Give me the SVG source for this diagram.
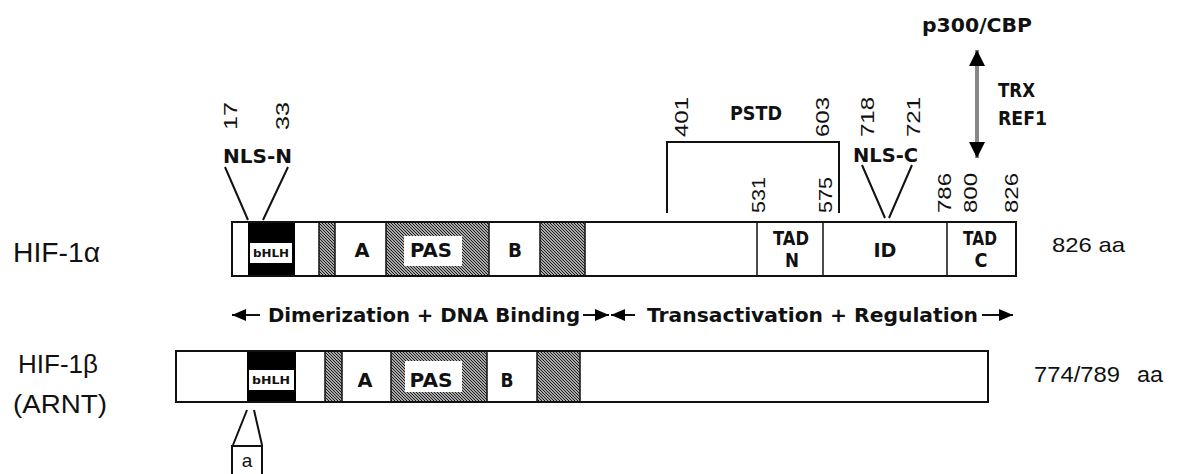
<svg xmlns="http://www.w3.org/2000/svg" width="1179" height="474" viewBox="0 0 1179 474">
<defs>
<pattern id="hatch" width="3" height="3" patternUnits="userSpaceOnUse">
<rect width="3" height="3" fill="#e8e8e8"/>
<path d="M-1,-1 L4,4 M-1,2 L1,4 M2,-1 L4,1" stroke="#111" stroke-width="1.1"/>
</pattern>
<marker id="ah" viewBox="0 0 14 12" refX="14" refY="6" markerWidth="14" markerHeight="12" markerUnits="userSpaceOnUse" orient="auto-start-reverse">
<path d="M0,0 L14,6 L0,12 Z" fill="#000"/>
</marker>
<marker id="ah2" viewBox="0 0 16 16" refX="16" refY="8" markerWidth="16" markerHeight="16" markerUnits="userSpaceOnUse" orient="auto-start-reverse">
<path d="M0,0 L16,8 L0,16 Z" fill="#000"/>
</marker>
</defs>
<style>
.lbl{font-family:"Liberation Sans",Arial,sans-serif;fill:#111}
.num{font-family:"Liberation Sans",Arial,sans-serif;font-size:18px;fill:#111;text-anchor:middle}
.bd{font-family:"DejaVu Sans","Liberation Sans",sans-serif;font-weight:bold;font-size:20px;fill:#111}
.mid{text-anchor:middle}
.bar{fill:#fff;stroke:#111;stroke-width:2}
.seg{stroke:#111;stroke-width:1.5}
.ln{stroke:#111;stroke-width:2;fill:none}
.tiny{font-family:"DejaVu Sans","Liberation Sans",sans-serif;font-weight:bold;font-size:10px;fill:#111;text-anchor:middle}
</style>
<rect width="1179" height="474" fill="#fff"/>

<g id="hif1a">
<text class="lbl" x="13" y="262" font-size="27" textLength="87" lengthAdjust="spacingAndGlyphs">HIF-1α</text>
<rect class="bar" x="232" y="222" width="784" height="54"/>
<rect x="248" y="222" width="47" height="54" fill="#000"/>
<rect x="250" y="243" width="42" height="20" fill="#fff"/>
<text class="tiny" x="271" y="257" textLength="36" lengthAdjust="spacingAndGlyphs">bHLH</text>
<rect class="seg" x="319" y="222" width="16" height="54" fill="url(#hatch)"/>
<rect class="seg" x="386" y="222" width="103" height="54" fill="url(#hatch)"/>
<rect x="404" y="236" width="58" height="30" fill="#fff"/>
<rect class="seg" x="540" y="222" width="45" height="54" fill="url(#hatch)"/>
<line class="seg" x1="757" y1="222" x2="757" y2="276"/>
<line class="seg" x1="823" y1="222" x2="823" y2="276"/>
<line class="seg" x1="947" y1="222" x2="947" y2="276"/>
<rect x="232" y="222" width="784" height="54" fill="none" stroke="#111" stroke-width="2"/>
<text class="bd mid" x="362" y="257" textLength="15" lengthAdjust="spacingAndGlyphs">A</text>
<text class="bd mid" x="431" y="257" textLength="42" lengthAdjust="spacingAndGlyphs">PAS</text>
<text class="bd mid" x="515" y="257" textLength="14" lengthAdjust="spacingAndGlyphs">B</text>
<text class="bd mid" x="791" y="245" font-size="15" textLength="36" lengthAdjust="spacingAndGlyphs">TAD</text>
<text class="bd mid" x="792" y="267" font-size="15" textLength="14" lengthAdjust="spacingAndGlyphs">N</text>
<text class="bd mid" x="885" y="257" font-size="19" textLength="23" lengthAdjust="spacingAndGlyphs">ID</text>
<text class="bd mid" x="980" y="245" font-size="15" textLength="34" lengthAdjust="spacingAndGlyphs">TAD</text>
<text class="bd mid" x="981" y="267" font-size="15" textLength="13" lengthAdjust="spacingAndGlyphs">C</text>
<text class="lbl" x="1052" y="252" font-size="21" textLength="73" lengthAdjust="spacingAndGlyphs">826  aa</text>
</g>

<g id="nls-n">
<text class="num" transform="translate(237,116) rotate(-90)" textLength="28" lengthAdjust="spacingAndGlyphs">17</text>
<text class="num" transform="translate(289,116) rotate(-90)" textLength="28" lengthAdjust="spacingAndGlyphs">33</text>
<text class="bd" x="223" y="163" textLength="69" lengthAdjust="spacingAndGlyphs">NLS-N</text>
</g>

<g id="pstd">
<text class="num" transform="translate(688,117) rotate(-90)" textLength="40" lengthAdjust="spacingAndGlyphs">401</text>
<text class="num" transform="translate(829,117) rotate(-90)" textLength="40" lengthAdjust="spacingAndGlyphs">603</text>
<text class="bd" x="730" y="120" textLength="52" lengthAdjust="spacingAndGlyphs">PSTD</text>
</g>

<g id="nls-c">
<text class="num" transform="translate(874,117) rotate(-90)" textLength="40" lengthAdjust="spacingAndGlyphs">718</text>
<text class="num" transform="translate(920,117) rotate(-90)" textLength="40" lengthAdjust="spacingAndGlyphs">721</text>
<text class="bd" x="853" y="162" textLength="65" lengthAdjust="spacingAndGlyphs">NLS-C</text>
</g>

<g id="positions">
<text class="num" transform="translate(765,195) rotate(-90)" textLength="36" lengthAdjust="spacingAndGlyphs">531</text>
<text class="num" transform="translate(832,195) rotate(-90)" textLength="36" lengthAdjust="spacingAndGlyphs">575</text>
<text class="num" transform="translate(951,193) rotate(-90)" textLength="40" lengthAdjust="spacingAndGlyphs">786</text>
<text class="num" transform="translate(977,193) rotate(-90)" textLength="40" lengthAdjust="spacingAndGlyphs">800</text>
<text class="num" transform="translate(1018,193) rotate(-90)" textLength="40" lengthAdjust="spacingAndGlyphs">826</text>
</g>

<g id="p300">
<text class="bd" x="922" y="32" textLength="110" lengthAdjust="spacingAndGlyphs">p300/CBP</text>
<text class="bd" x="998" y="97" textLength="37" lengthAdjust="spacingAndGlyphs">TRX</text>
<text class="bd" x="998" y="125" textLength="49" lengthAdjust="spacingAndGlyphs">REF1</text>
</g>

<g id="hif1b">
<text class="lbl" x="18" y="373" font-size="25" textLength="80" lengthAdjust="spacingAndGlyphs">HIF-1β</text>
<text class="lbl" x="13" y="413" font-size="25" textLength="94" lengthAdjust="spacingAndGlyphs">(ARNT)</text>
<rect class="bar" x="176" y="351" width="812" height="51"/>
<rect x="247" y="351" width="49" height="51" fill="#000"/>
<rect x="249" y="370" width="45" height="20" fill="#fff"/>
<text class="tiny" x="271" y="384" textLength="38" lengthAdjust="spacingAndGlyphs">bHLH</text>
<rect class="seg" x="325" y="351" width="17" height="51" fill="url(#hatch)"/>
<rect class="seg" x="391" y="351" width="96" height="51" fill="url(#hatch)"/>
<rect x="405" y="361" width="57" height="31" fill="#fff"/>
<rect class="seg" x="537" y="351" width="43" height="51" fill="url(#hatch)"/>
<rect x="176" y="351" width="812" height="51" fill="none" stroke="#111" stroke-width="2"/>
<text class="bd mid" x="365" y="387" textLength="15" lengthAdjust="spacingAndGlyphs">A</text>
<text class="bd mid" x="431" y="387" textLength="43" lengthAdjust="spacingAndGlyphs">PAS</text>
<text class="bd mid" x="507" y="387" textLength="13" lengthAdjust="spacingAndGlyphs">B</text>
<text class="lbl" x="1034" y="382" font-size="22" textLength="86" lengthAdjust="spacingAndGlyphs">774/789</text>
<text class="lbl" x="1137" y="382" font-size="22" textLength="26" lengthAdjust="spacingAndGlyphs">aa</text>
</g>

<g id="box-a">
<rect x="232" y="446" width="30" height="30" fill="#fff" stroke="#111" stroke-width="2"/>
<text class="lbl mid" x="247" y="467" font-size="19">a</text>
</g>

<g id="domain-labels">
<text class="bd" x="268" y="322" textLength="312" lengthAdjust="spacingAndGlyphs">Dimerization + DNA Binding</text>
<text class="bd" x="647" y="322" textLength="331" lengthAdjust="spacingAndGlyphs">Transactivation + Regulation</text>
</g>

<g id="connectors">
<path class="ln" d="M225,167 L248,220 M288,167 L263,220"/>
<path class="ln" d="M862,165 L885,218 M912,165 L889,218"/>
<path class="ln" d="M667,213 V142 H839 V213"/>
<path class="ln" d="M247,410 L233,445 M254,410 L262,445"/>
<line x1="977" y1="50" x2="977" y2="158" stroke="#888" stroke-width="4" marker-start="url(#ah2)" marker-end="url(#ah2)"/>
<line x1="260" y1="315" x2="232" y2="315" stroke="#111" stroke-width="2" marker-end="url(#ah)"/>
<line x1="583" y1="315" x2="609" y2="315" stroke="#111" stroke-width="2" marker-end="url(#ah)"/>
<line x1="635" y1="315" x2="611" y2="315" stroke="#111" stroke-width="2" marker-end="url(#ah)"/>
<line x1="982" y1="315" x2="1013" y2="315" stroke="#111" stroke-width="2" marker-end="url(#ah)"/>
</g>
</svg>
